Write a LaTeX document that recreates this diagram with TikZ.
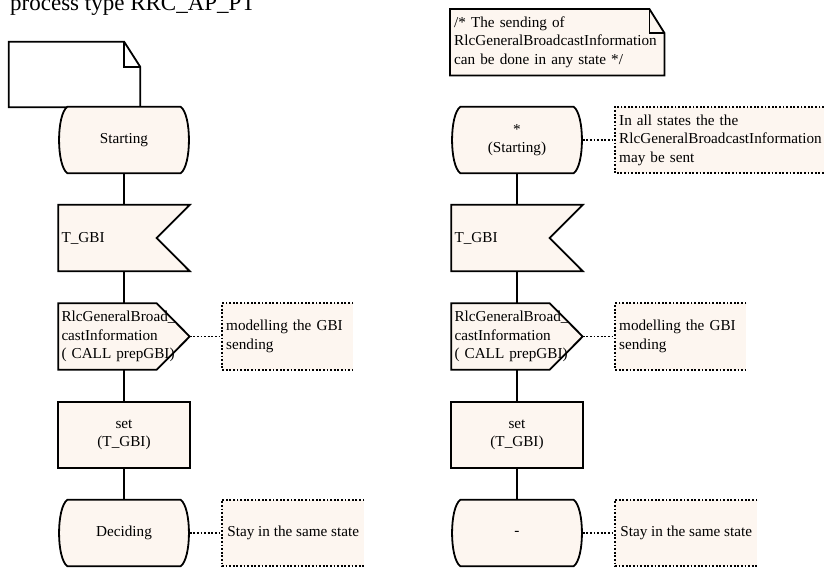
\documentclass[tikz,border=0pt]{standalone}
\usepackage{fontspec}
\setmainfont{Liberation Serif}
\usetikzlibrary{backgrounds}
\definecolor{sdlfill}{RGB}{253,246,240}
\tikzset{
  shp/.style={draw=black, line width=1.8pt, fill=sdlfill, line join=miter},
  hdrshp/.style={draw=black, line width=1.8pt, fill=white, line join=miter},
  dotline/.style={draw=black, line width=1.8pt, dash pattern=on 1.8pt off 1.8pt},
  flow/.style={draw=black, line width=1.8pt},
  txt/.style={font=\fontsize{15.2}{18.5}\selectfont},
  holder/.style={txt, draw=none, minimum width=131pt, minimum height=66pt, inner sep=3pt, align=center},
  lholder/.style={holder, text width=125pt, align=left},
  cmt/.style={txt, draw=none, minimum height=66pt, inner xsep=4pt, inner ysep=3pt, align=left, anchor=west},
}
\newcommand{\statepath}[1]{%
  \path[shp] ([xshift=9pt]#1.north west) -- ([xshift=-9pt]#1.north east)
    .. controls ([xshift=2pt,yshift=-8pt]#1.north east) and ([xshift=2pt,yshift=8pt]#1.south east) .. ([xshift=-9pt]#1.south east)
    -- ([xshift=9pt]#1.south west)
    .. controls ([xshift=-2pt,yshift=8pt]#1.south west) and ([xshift=-2pt,yshift=-8pt]#1.north west) .. cycle;}
\newcommand{\inputpath}[1]{%
  \path[shp] (#1.north west) -- (#1.north east) -- ([xshift=-33pt]#1.east) -- (#1.south east) -- (#1.south west) -- cycle;}
\newcommand{\outputpath}[1]{%
  \path[shp] (#1.north west) -- ([xshift=-33pt]#1.north east) -- (#1.east) -- ([xshift=-33pt]#1.south east) -- (#1.south west) -- cycle;}
\newcommand{\taskpath}[1]{%
  \path[shp] (#1.north west) rectangle (#1.south east);}
\newcommand{\cmtpath}[1]{%
  \path[fill=sdlfill] (#1.north west) rectangle (#1.south east);
  \path[dotline] (#1.north east) -- (#1.north west) -- (#1.south west) -- (#1.south east);}
\begin{document}
\begin{tikzpicture}[x=1pt,y=-1pt]
\useasboundingbox (0,0) rectangle (824,568);

% title
\node[anchor=base west, inner sep=0pt, font=\fontsize{23}{27}\selectfont] (title) at (10,10) {process type RRC\_AP\_PT};

% left column
\node[draw=none, minimum width=131pt, minimum height=65pt, inner sep=0pt] (hdr) at (74.5,74.5) {};
\node[holder] (s1) at (124,140) {Starting};
\node[lholder] (i1) at (124,238) {T\_GBI};
\node[lholder] (o1) at (124,336.5) {RlcGeneralBroad\_\\castInformation\\( CALL prepGBI)};
\node[holder] (t1) at (124,435) {set\\(T\_GBI)};
\node[holder] (s2) at (124,533) {Deciding};
\node[cmt, text width=123pt] (c1) at (222,336.5) {modelling the GBI\\sending};
\node[cmt, minimum width=142pt] (c2) at (222,533) {Stay in the same state};

% right column
\node[txt, draw=none, anchor=north west, minimum width=214pt, minimum height=66pt, text width=206pt, inner sep=4pt, align=left] (note) at (450,9) {/* The sending of\\RlcGeneralBroadcastInformation\\can be done in any state */};
\node[holder] (s3) at (517,140) {*\\(Starting)};
\node[lholder] (i2) at (517,238) {T\_GBI};
\node[lholder] (o2) at (517,336.5) {RlcGeneralBroad\_\\castInformation\\( CALL prepGBI)};
\node[holder] (t2) at (517,435) {set\\(T\_GBI)};
\node[holder] (s4) at (517,533) {-};
\node[cmt, text width=215pt] (c3) at (615,140) {In all states the the\\RlcGeneralBroadcastInformation\\may be sent};
\node[cmt, text width=123pt] (c4) at (615,336.5) {modelling the GBI\\sending};
\node[cmt, minimum width=142pt] (c5) at (615,533) {Stay in the same state};

\begin{scope}[on background layer]
  % header frame
  \path[hdrshp] (hdr.north west) -- ([xshift=-16pt]hdr.north east) -- ([yshift=-25pt]hdr.north east) -- (hdr.south east) -- (hdr.south west) -- cycle;
  \path[flow] ([xshift=-16pt]hdr.north east) -- ([xshift=-16pt,yshift=-25pt]hdr.north east) -- ([yshift=-25pt]hdr.north east);
  % note
  \path[shp] (note.north west) -- ([xshift=-15pt]note.north east) -- ([yshift=-24pt]note.north east) -- (note.south east) -- (note.south west) -- cycle;
  \path[flow] ([xshift=-15pt]note.north east) -- ([xshift=-15pt,yshift=-24pt]note.north east) -- ([yshift=-24pt]note.north east);
  \statepath{s1}
  \inputpath{i1}
  \outputpath{o1}
  \taskpath{t1}
  \statepath{s2}
  \statepath{s3}
  \inputpath{i2}
  \outputpath{o2}
  \taskpath{t2}
  \statepath{s4}
  \cmtpath{c1}
  \cmtpath{c2}
  \cmtpath{c3}
  \cmtpath{c4}
  \cmtpath{c5}
\end{scope}

% connectors
\draw[flow] (s1.south) -- (i1.north);
\draw[flow] (i1.south) -- (o1.north);
\draw[flow] (o1.south) -- (t1.north);
\draw[flow] (t1.south) -- (s2.north);
\draw[flow] (s3.south) -- (i2.north);
\draw[flow] (i2.south) -- (o2.north);
\draw[flow] (o2.south) -- (t2.north);
\draw[flow] (t2.south) -- (s4.north);
\draw[dotline] (o1.east) -- (c1.west);
\draw[dotline] (s2.east) -- (c2.west);
\draw[dotline] (s3.east) -- (c3.west);
\draw[dotline] (o2.east) -- (c4.west);
\draw[dotline] (s4.east) -- (c5.west);
\end{tikzpicture}
\end{document}
